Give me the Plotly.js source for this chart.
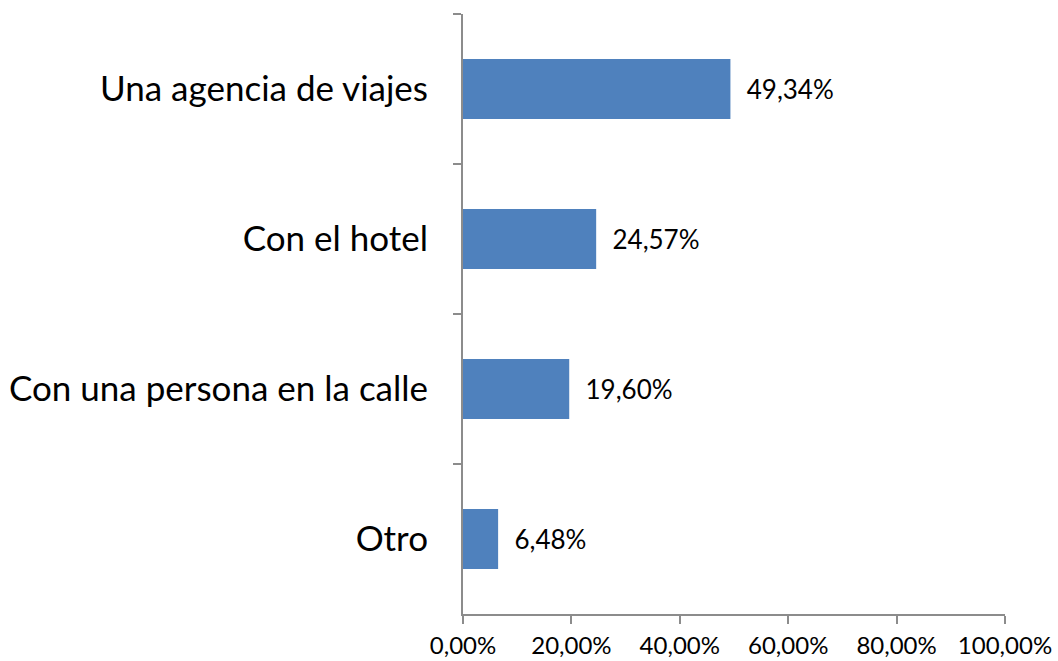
<!DOCTYPE html>
<html>
<head>
<meta charset="utf-8">
<script src="https://cdn.plot.ly/plotly-3.0.1.min.js"></script>
<style>
  html, body { margin: 0; padding: 0; background: #fff; }
  #chart { width: 1058px; height: 661px; }
</style>
</head>
<body>
<div id="chart"></div>
<script>
// Categories from top to bottom, shares as fractions
const categories = ['Una agencia de viajes', 'Con el hotel', 'Con una persona en la calle', 'Otro'];
const shares = [0.4934, 0.2457, 0.1960, 0.0648];
const xTicks = [0, 0.2, 0.4, 0.6, 0.8, 1.0];

const barColor = '#4F81BD';
const axisColor = '#8c8c8c';
const fontFamily = 'Lato, "Open Sans", sans-serif';

const data = [{
    type: 'bar',
    orientation: 'h',
    x: shares,
    y: categories,
    marker: { color: barColor },
    texttemplate: '\u00a0\u00a0%{x:.2%}',
    textposition: 'outside',
    cliponaxis: false,
    textfont: { family: fontFamily, size: 26, color: '#000' },
    hoverinfo: 'none'
}];

const layout = {
    width: 1058,
    height: 661,
    margin: { l: 463, r: 53, t: 14, b: 47 },
    paper_bgcolor: '#fff',
    plot_bgcolor: '#fff',
    separators: ',.',
    showlegend: false,
    bargap: 0.6,
    font: { family: fontFamily, color: '#000' },
    xaxis: {
        range: [0, 1],
        tickvals: xTicks,
        tickformat: '.2%',
        ticks: 'outside',
        ticklen: 8,
        tickwidth: 2,
        tickcolor: axisColor,
        showline: true,
        linecolor: axisColor,
        linewidth: 2,
        showgrid: false,
        zeroline: false,
        fixedrange: true,
        ticklabelstandoff: 1,
        tickfont: { family: fontFamily, size: 24, color: '#000' }
    },
    yaxis: {
        type: 'category',
        autorange: 'reversed',
        tickson: 'boundaries',
        ticks: 'outside',
        ticklen: 8,
        tickwidth: 2,
        tickcolor: axisColor,
        showline: true,
        linecolor: axisColor,
        linewidth: 2,
        showgrid: false,
        zeroline: false,
        fixedrange: true,
        ticklabelstandoff: 26,
        tickfont: { family: fontFamily, size: 35, color: '#000' }
    }
};

Plotly.newPlot('chart', data, layout, { displayModeBar: false, staticPlot: true });
</script>
</body>
</html>
